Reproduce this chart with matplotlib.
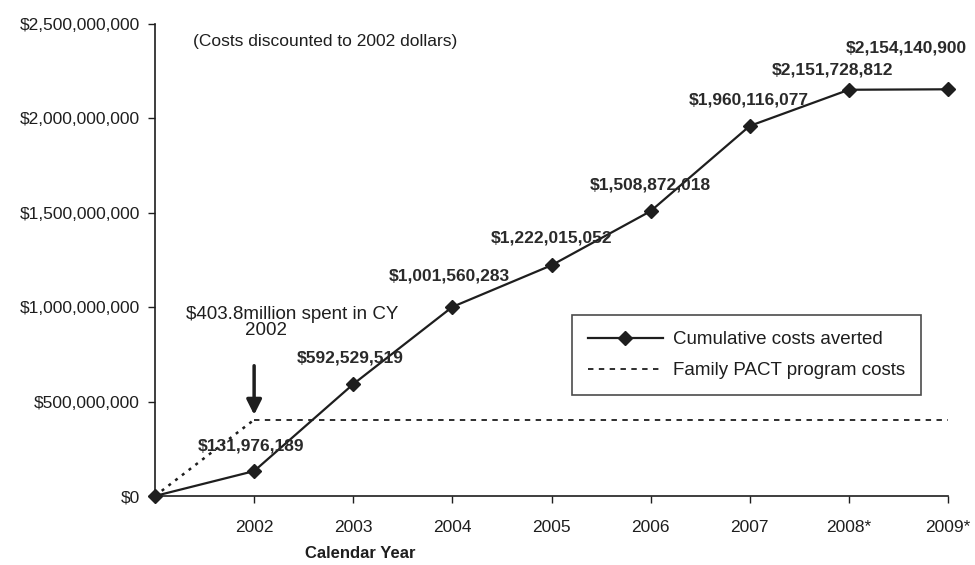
import matplotlib
matplotlib.use("Agg")
import matplotlib.pyplot as plt
from matplotlib.lines import Line2D

plt.rcParams['font.family'] = ['Liberation Sans', 'DejaVu Sans']

# Data
years = ["", "2002", "2003", "2004", "2005", "2006", "2007", "2008*", "2009*"]
averted = [0, 131976189, 592529519, 1001560283, 1222015052,
           1508872018, 1960116077, 2151728812, 2154140900]
program_cost = 403.8e6
yticks = [0, 500e6, 1000e6, 1500e6, 2000e6, 2500e6]
ytick_labels = ["$0", "$500,000,000", "$1,000,000,000", "$1,500,000,000",
                "$2,000,000,000", "$2,500,000,000"]
# label offsets (points) for each data label
label_offsets = [None, (-2, 18), (-2, 19), (-2, 22), (0, 20), (0, 19),
                 (-1, 19), (-12, 14), (-30, 30)]

ink = "#1e1e1e"
fs = 12.5
fig = plt.figure(figsize=(9.75, 5.65), dpi=100)
ax = fig.add_axes([155/975, 1-496/565, (948-155)/975, (496-24)/565])

x = list(range(len(years)))
ax.plot(x, averted, color=ink, lw=1.6, marker='D', ms=7, clip_on=False, zorder=3)

# program costs: dotted ramp to 2002, then flat dashed line
ax.plot([0, 1], [0, program_cost], color=ink, lw=1.8, ls=(0, (1.2, 2.2)), clip_on=False)
ax.plot([1, 8], [program_cost, program_cost], color=ink, lw=1.3, ls=(0, (3, 3)), clip_on=False)

ax.set_xlim(0, 8)
ax.set_ylim(0, 2.5e9)
ax.set_xticks(x[1:])
ax.set_xticklabels(years[1:], fontsize=fs, color=ink)
ax.set_yticks(yticks)
ax.set_yticklabels(ytick_labels, fontsize=fs, color=ink)
ax.tick_params(axis='both', direction='out', length=5, width=1, color=ink)
ax.tick_params(axis='x', pad=12)
ax.tick_params(axis='y', pad=6)
for s in ['top', 'right']:
    ax.spines[s].set_visible(False)
for s in ['left', 'bottom']:
    ax.spines[s].set_color(ink)
    ax.spines[s].set_linewidth(1.2)

for i in range(1, len(years)):
    ax.annotate(f"${averted[i]:,}", (x[i], averted[i]), xytext=label_offsets[i],
                textcoords='offset points', ha='center', va='center',
                fontsize=fs, fontweight='bold', color="#2a2a2a")

ax.text(0.38, 2.405e9, "(Costs discounted to 2002 dollars)", fontsize=12.5, color=ink,
        va='center', ha='left')

# program spending callout
ax.text(1.38, 0.96e9, "$403.8million spent in CY", fontsize=13.5, color=ink,
        ha='center', va='center')
ax.text(1.12, 0.875e9, "2002", fontsize=13.5, color=ink, ha='center', va='center')
ax.annotate("", xy=(1, 0.43e9), xytext=(1, 0.69e9),
            arrowprops=dict(arrowstyle='-|>,head_width=0.45,head_length=0.9',
                            color=ink, lw=2.5, shrinkA=0, shrinkB=0))

handles = [Line2D([], [], color=ink, lw=1.6, marker='D', ms=7),
           Line2D([], [], color=ink, lw=1.3, ls=(0, (3, 3)))]
leg = ax.legend(handles, ["Cumulative costs averted", "Family PACT program costs"],
                loc='upper left', bbox_to_anchor=((572-155)/793, (496-315)/472),
                borderaxespad=0, fontsize=13.5, frameon=True, fancybox=False,
                edgecolor=ink, handlelength=4.0, handletextpad=0.55,
                borderpad=0.85, labelspacing=0.75)
leg.get_frame().set_linewidth(1.2)
for t in leg.get_texts():
    t.set_color(ink)

fig.text(360/975, 1-553/565, "Calendar Year", fontsize=12, fontweight='bold',
         color=ink, ha='center', va='center')

fig.savefig("out.png", dpi=100)
